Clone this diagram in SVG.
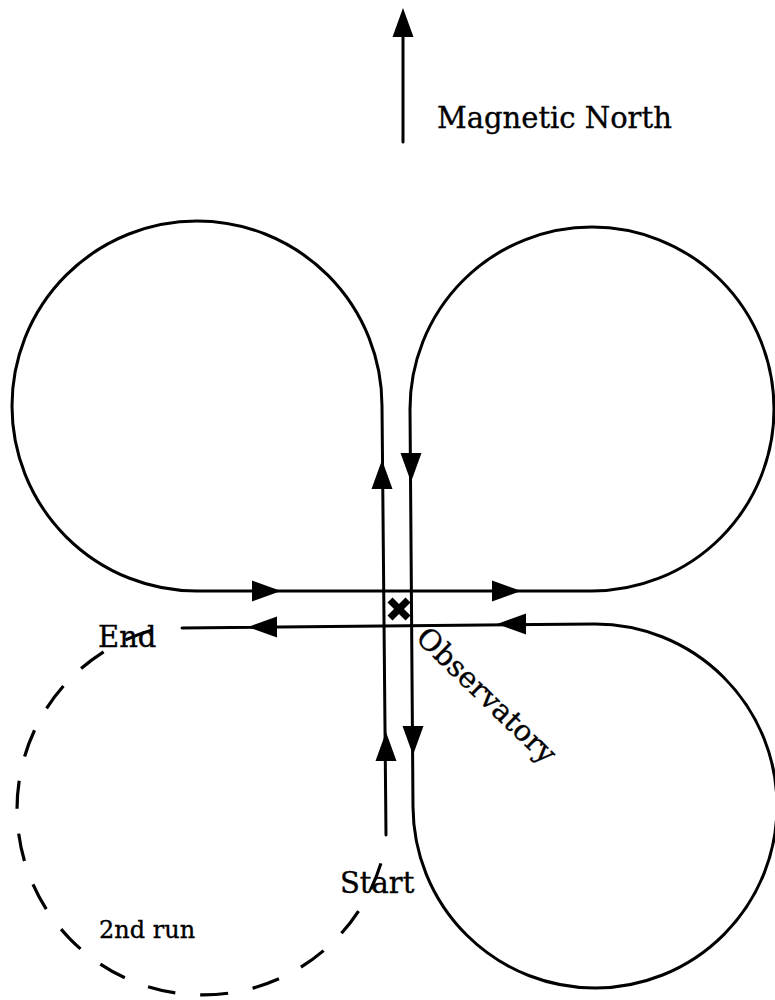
<svg xmlns="http://www.w3.org/2000/svg" xmlns:xlink="http://www.w3.org/1999/xlink" width="775" height="1000" viewBox="0 0 775 1000">
  <style>
    .ln { fill: none; stroke: #000; stroke-width: 3; stroke-linecap: round; stroke-linejoin: round; }
    .dash { fill: none; stroke: #000; stroke-width: 3.2; stroke-dasharray: 28 24.9; }
    .lbl { font-family: "DejaVu Serif", "Liberation Serif", serif; font-size: 29px; fill: #000; stroke: #000; stroke-width: 0.35; }
    .small { font-size: 24px; }
    .ah { fill: #000; stroke: none; }
  </style>
  <defs>
    <path id="ah" class="ah" d="M0,0 L-29,-10.5 L-29,10.5 Z"/>
  </defs>
  <rect width="775" height="1000" fill="#fff"/>

  <g id="north">
    <line class="ln" x1="403" y1="142" x2="403" y2="30"/>
    <use xlink:href="#ah" href="#ah" transform="translate(403,8) rotate(-90)"/>
    <text class="lbl" x="437" y="128">Magnetic North</text>
  </g>

  <g id="connectors">
    <path class="ln" d="M386,835 L382,406 A185,185 0 1 0 197,591 L592,591 A182,182 0 1 0 410,409 L413,807 A182,182 0 1 0 595,624 L182,628"/>
    <path class="dash" d="M380.9,863.4 A186,186 0 1 1 151.7,630.2"/>
    <use xlink:href="#ah" href="#ah" transform="translate(382,460) rotate(-90)"/>
    <use xlink:href="#ah" href="#ah" transform="translate(411,482) rotate(90)"/>
    <use xlink:href="#ah" href="#ah" transform="translate(281,591)"/>
    <use xlink:href="#ah" href="#ah" transform="translate(521,591)"/>
    <use xlink:href="#ah" href="#ah" transform="translate(248,627) rotate(180)"/>
    <use xlink:href="#ah" href="#ah" transform="translate(497,624) rotate(180)"/>
    <use xlink:href="#ah" href="#ah" transform="translate(386,732) rotate(-90)"/>
    <use xlink:href="#ah" href="#ah" transform="translate(413,755) rotate(90)"/>
  </g>

  <g id="observatory">
    <line x1="390" y1="600" x2="408" y2="618" stroke="#000" stroke-width="7"/>
    <line x1="408" y1="600" x2="390" y2="618" stroke="#000" stroke-width="7"/>
    <text class="lbl" transform="translate(486,696) rotate(44)" x="0" y="9" text-anchor="middle">Observatory</text>
  </g>

  <g id="end">
    <text class="lbl" x="98" y="647">End</text>
  </g>

  <g id="start">
    <text class="lbl" x="340" y="893">Start</text>
  </g>

  <g id="second-run">
    <text class="lbl small" x="99" y="938">2nd run</text>
  </g>
</svg>
